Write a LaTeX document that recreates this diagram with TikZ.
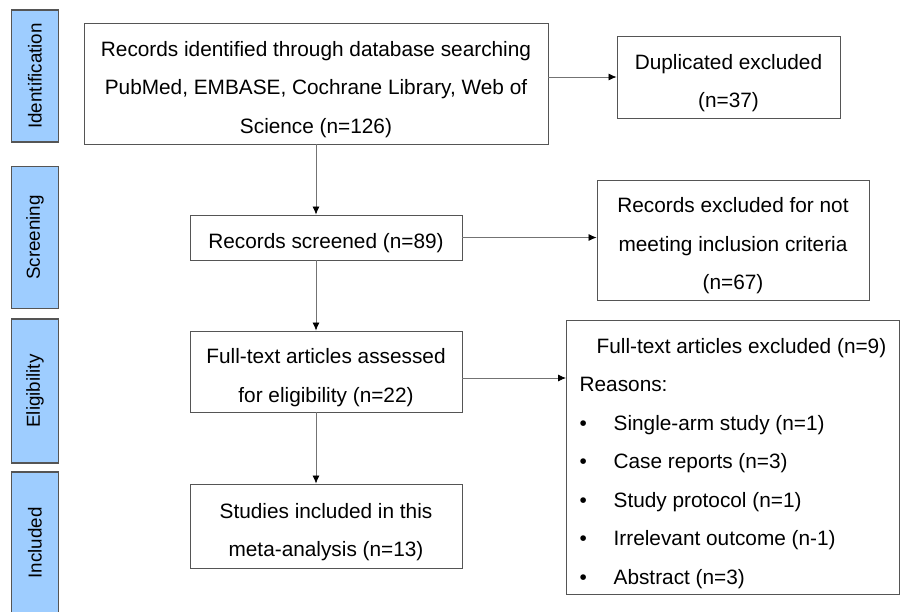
\documentclass[tikz,border=0pt]{standalone}
\usepackage{fontspec}
\setmainfont{Liberation Sans}
\usetikzlibrary{arrows.meta, positioning}

\definecolor{stageblue}{HTML}{9ECDFF}
\definecolor{boxgray}{HTML}{555555}
\newcommand{\boxtop}{\rule{0pt}{27pt}}
\newcommand{\reason}[1]{\makebox[34pt][l]{\textbullet}#1}

\begin{document}
\begin{tikzpicture}[x=1pt, y=-1pt,
  font=\fontsize{20.8}{38.5}\selectfont,
  stage/.style={rectangle, draw=boxgray, line width=1.2pt, fill=stageblue,
    rotate=90, minimum height=47pt, inner sep=0pt, font=\fontsize{18.8}{22}\selectfont},
  box/.style={rectangle, draw=boxgray, line width=0.9pt, align=center, inner sep=0pt},
  flow/.style={draw=black!55, line width=0.8pt, arrows={-Latex[black, length=8pt, width=7pt]}}]
  \useasboundingbox (0,0) rectangle (901,611);
  % stage labels
  \node[stage, minimum width=132pt] (ident) at (35,76) {Identification};
  \node[stage, minimum width=142pt] (screen) at (35,237.5) {Screening};
  \node[stage, minimum width=144pt] (elig) at (35,391) {Eligibility};
  \node[stage, minimum width=142pt] (incl) at (35,543) {Included};
  % boxes
  \node[box, minimum width=464pt, minimum height=121pt] (records) at (316,83.5)
    {\boxtop Records identified through database searching\\PubMed, EMBASE, Cochrane Library, Web of\\Science (n=126)};
  \node[box, minimum width=223pt, minimum height=82pt] (dupl) at (728.5,77)
    {\boxtop Duplicated excluded\\(n=37)};
  \node[box, minimum width=272pt, minimum height=45pt] (screened) at (326,237.5)
    {\boxtop Records screened (n=89)};
  \node[box, minimum width=272pt, minimum height=120pt] (notmeet) at (733,240)
    {\boxtop Records excluded for not\\meeting inclusion criteria\\(n=67)};
  \node[box, minimum width=272pt, minimum height=81pt] (fulltext) at (326,371.5)
    {\boxtop Full-text articles assessed\\for eligibility (n=22)};
  \node[box, minimum width=333pt, minimum height=274pt, align=left,
    inner xsep=7pt, anchor=north west] (ftexcl) at (566,320)
    {\boxtop\hspace*{17pt}Full-text articles excluded (n=9)\\
     Reasons:\\
     \reason{Single-arm study (n=1)}\\
     \reason{Case reports (n=3)}\\
     \reason{Study protocol (n=1)}\\
     \reason{Irrelevant outcome (n-1)}\\
     \reason{Abstract (n=3)}};
  \node[box, minimum width=272pt, minimum height=84pt] (included) at (326,526)
    {\boxtop Studies included in this\\meta-analysis (n=13)};
  % arrows
  \draw[flow] (records.south) -- (records.south |- screened.north);
  \draw[flow] (screened.south -| records.south) -- (records.south |- fulltext.north);
  \draw[flow] (fulltext.south -| records.south) -- (records.south |- included.north);
  \draw[flow] (records.east |- dupl.west) -- (dupl.west);
  \draw[flow] (screened.east) -- (screened.east -| notmeet.west);
  \draw[flow] (fulltext.east |- 0,378) -- (ftexcl.west |- 0,378);
\end{tikzpicture}
\end{document}
